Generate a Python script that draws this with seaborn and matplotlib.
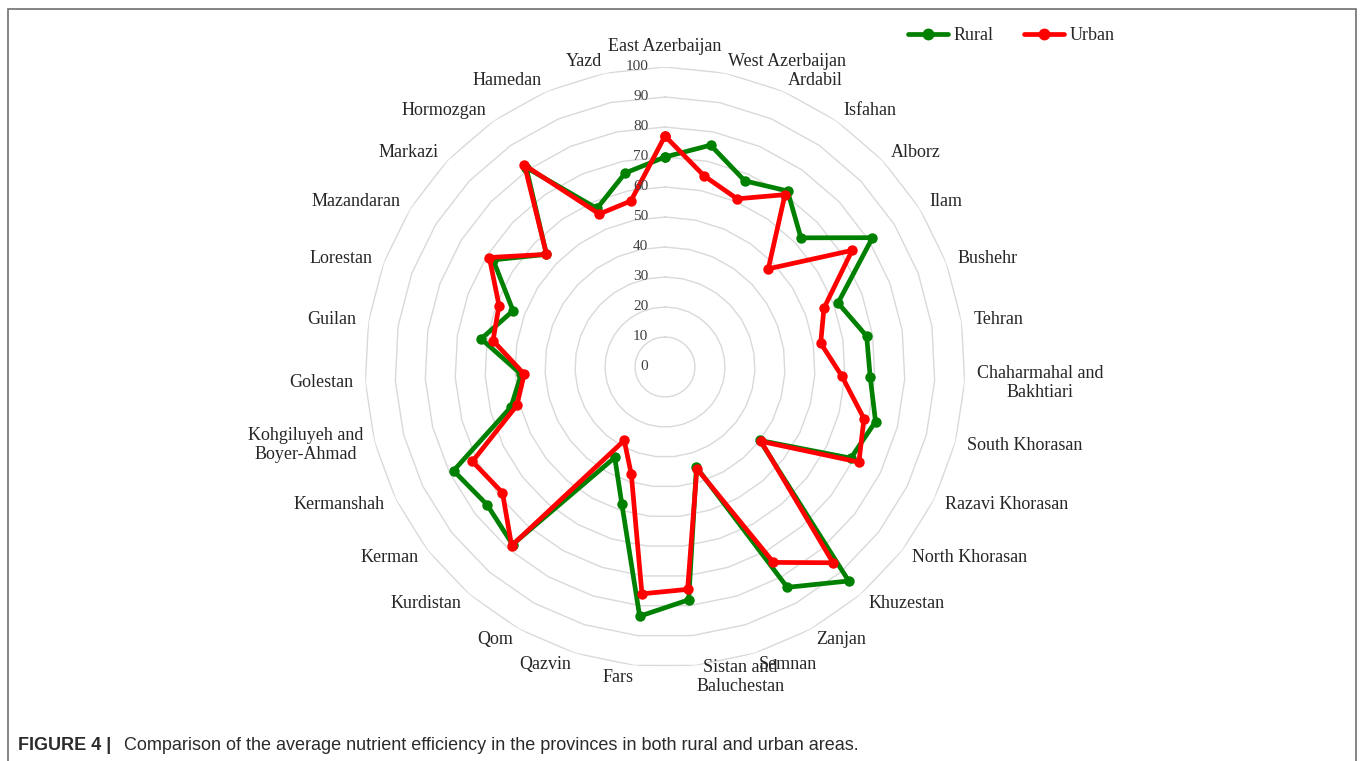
import numpy as np
import pandas as pd
import matplotlib.pyplot as plt
import seaborn as sns
from matplotlib.lines import Line2D
from matplotlib.patches import Rectangle

# provinces, clockwise from the top
provinces = ["East Azerbaijan", "West Azerbaijan", "Ardabil", "Isfahan", "Alborz", "Ilam",
             "Bushehr", "Tehran", "Chaharmahal and\nBakhtiari", "South Khorasan",
             "Razavi Khorasan", "North Khorasan", "Khuzestan", "Zanjan", "Semnan",
             "Sistan and\nBaluchestan", "Fars", "Qazvin", "Qom", "Kurdistan", "Kerman",
             "Kermanshah", "Kohgiluyeh and\nBoyer-Ahmad", "Golestan", "Guilan", "Lorestan",
             "Mazandaran", "Markazi", "Hormozgan", "Hamedan", "Yazd"]

rural = [70, 75.5, 67.5, 71.5, 62.5, 81.5, 61.5, 68, 68.5, 72.5, 69, 40, 94, 84, 35,
         78, 83.5, 48, 34.5, 78, 75, 78.5, 53, 48, 62, 54, 67.5, 54.5, 81, 57.5, 66]
urban = [77, 65, 61, 70, 47.5, 73.5, 56.5, 52.5, 59, 68.5, 72, 40.5, 86, 74.5, 35.5,
         74.5, 76, 37.5, 28, 78.5, 68.5, 71.5, 51, 47, 58, 59, 69, 54.5, 82, 55.5, 56.5]

ring_levels = [10, 20, 30, 40, 50, 60, 70, 80, 90, 100]
tick_levels = [0, 10, 20, 30, 40, 50, 60, 70, 80, 90, 100]

series_colors = {"Rural": "#008000", "Urban": "#ff0000"}

n = len(provinces)
angles = np.linspace(0, 2 * np.pi, n, endpoint=False)

# long-form table, first point repeated to close each polygon
closed = np.append(angles, 2 * np.pi)
df = pd.concat([
    pd.DataFrame({"angle": closed, "value": rural + rural[:1], "Area": "Rural"}),
    pd.DataFrame({"angle": closed, "value": urban + urban[:1], "Area": "Urban"}),
])

sns.set_style("white")
plt.rcParams["font.family"] = ["Liberation Serif", "DejaVu Serif"]

W, H = 1362, 761
fig = plt.figure(figsize=(W / 100, H / 100), dpi=100)

cx, cy, rad = 665, 367, 300
ax = fig.add_axes([(cx - rad) / W, (H - cy - rad) / H, 2 * rad / W, 2 * rad / H], polar=True)
ax.set_theta_zero_location("N")
ax.set_theta_direction(-1)
ax.set_ylim(0, 100)
ax.grid(False)
ax.spines["polar"].set_visible(False)
ax.set_xticks([])
ax.set_yticks([])
ax.set_facecolor("none")

# polygon gridlines like the spreadsheet radar chart
for lv in ring_levels:
    ax.plot(closed, [lv] * len(closed), color="#d9d9d9", lw=1.0, zorder=1)

sns.lineplot(data=df, x="angle", y="value", hue="Area", palette=series_colors,
             sort=False, estimator=None, marker="o", markersize=7.5, markeredgewidth=0,
             linewidth=3.4, legend=False, ax=ax, zorder=3)
ax.set_xlabel("")
ax.set_ylabel("")

# radial tick labels along the top axis
for lv in tick_levels:
    ax.annotate(str(lv), xy=(0, lv), xytext=(-12, 0), textcoords="offset points",
                ha="right", va="center", fontsize=11, color="#404040")

# province labels
for ang, name in zip(angles, provinces):
    s, c = np.sin(ang), np.cos(ang)
    if abs(s) < 0.05:
        ha = "center"
        va = "bottom" if c > 0 else "top"
    else:
        ha = "left" if s > 0 else "right"
        va = "center"
    ax.text(ang, 104, name, ha=ha, va=va, fontsize=13, color="#262626",
            multialignment="center", linespacing=1.15)

handles = [Line2D([], [], color=series_colors[k], lw=3.4, marker="o", markersize=7.5)
           for k in ["Rural", "Urban"]]
fig.legend(handles, ["Rural", "Urban"], loc="center left",
           bbox_to_anchor=(892 / W, 1 - 36 / H), ncol=2, frameon=False,
           fontsize=13, handlelength=2.2, handletextpad=0.3, columnspacing=1.7)

# outer frame and caption
fig.patches.append(Rectangle((8 / W, -0.05), 1348 / W, 1.05 - 9.5 / H,
                             transform=fig.transFigure, fill=False,
                             edgecolor="#707070", lw=1.2))
fig.text(18 / W, 1 - 745 / H, "FIGURE 4 |", fontsize=13, fontweight="bold",
         family="Liberation Sans", color="#2b2b2b", va="center")
fig.text(124 / W, 1 - 745 / H,
         "Comparison of the average nutrient efficiency in the provinces in both rural and urban areas.",
         fontsize=13, family="Liberation Sans", color="#2b2b2b", va="center")

fig.savefig("out.png", dpi=100)
